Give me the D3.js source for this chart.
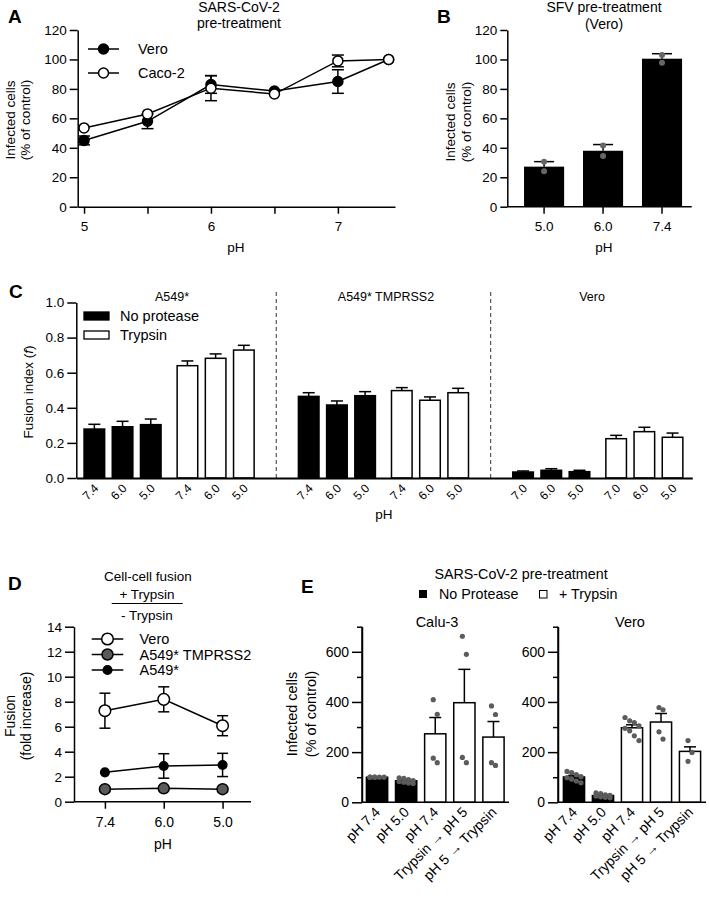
<!DOCTYPE html>
<html><head><meta charset="utf-8">
<script src="https://cdn.jsdelivr.net/npm/d3@7"></script>
<style>
body{margin:0;background:#fff}
svg{display:block;font-family:"Liberation Sans",Arial,Helvetica,sans-serif}
</style></head><body>
<svg id="chart" width="709" height="898"></svg>
<script>
// ---------- DATA ----------
// Panel A
const phA = [5, 5.5, 6, 6.5, 7, 7.4];
const veroA = [45, 58, 83, 78.5, 85, 100];
const veroAErr = [3, 5, 6, 1, 8, 0];
const cacoA = [53.5, 63, 80.5, 76.5, 99, 100];
const cacoAErr = [1, 1, 8.5, 1, 4, 0];
const xTicksA = [5, 5.5, 6, 6.5, 7];
const yTicksAB = [0, 20, 40, 60, 80, 100, 120];
// Panel B
const phB = ["5.0", "6.0", "7.4"];
const sfvB = [27.2, 38, 100.5];
const sfvBErr = [3.4, 4.2, 3.4];
const sfvBDots = [[24, 30.5], [34.4, 41.5], [97.8, 103]];
// Panel C
const groupsC = ["A549*", "A549* TMPRSS2", "Vero"];
const phC = [["7.4", "6.0", "5.0"], ["7.4", "6.0", "5.0"], ["7.0", "6.0", "5.0"]];
const noProtC = [[0.279, 0.292, 0.304], [0.465, 0.416, 0.469], [0.034, 0.044, 0.036]];
const noProtCErr = [[0.027, 0.031, 0.032], [0.021, 0.023, 0.023], [0.006, 0.009, 0.008]];
const trypC = [[0.640, 0.682, 0.729], [0.498, 0.443, 0.486], [0.224, 0.264, 0.232]];
const trypCErr = [[0.027, 0.025, 0.027], [0.017, 0.019, 0.025], [0.019, 0.025, 0.024]];
const yTicksC = [0, 0.2, 0.4, 0.6, 0.8, 1.0];
// Panel D
const phD = ["7.4", "6.0", "5.0"];
const veroD = [7.28, 8.19, 6.08];
const veroDErr = [1.4, 1.0, 0.8];
const tmprssD = [1.0, 1.07, 1.0];
const tmprssDErr = [0.05, 0.05, 0.05];
const a549D = [2.35, 2.86, 2.94];
const a549DErr = [0.12, 0.98, 0.93];
const yTicksD = [0, 2, 4, 6, 8, 10, 12, 14];
// Panel E
const labelsE = ["pH 7.4", "pH 5.0", "pH 7.4", "Trypsin \u2192 pH 5", "pH 5 \u2192 Trypsin"];
const trypsinE = [false, false, true, true, true];
const calu3Mean = [100, 86, 273, 397, 260];
const calu3Err = [1, 3, 65, 133, 62];
const calu3Dots = [[100, 100, 100, 100, 100, 100], [97, 95, 90, 87, 83, 80, 77, 75], [409, 351, 176, 158], [662, 590, 179, 158], [384, 350, 158, 147]];
const veroEMean = [101, 27, 297, 320, 203];
const veroEErr = [6, 3, 12, 34, 18];
const veroEDots = [[123, 118, 110, 102, 98, 92, 85, 78], [38, 35, 30, 28, 25, 22, 20, 18], [338, 325, 318, 305, 295, 285, 265, 246], [378, 369, 281, 252], [246, 199, 163]];
const yTicksE = [0, 200, 400, 600];
const yMinorE = [100, 300, 500, 700];

// ---------- HELPERS ----------
const svg = d3.select("#chart");
svg.append("rect").attr("width", 709).attr("height", 898).attr("fill", "#fff");

function styleAxis(g, fs) {
  g.attr("font-size", fs).attr("font-family", null);
  g.selectAll("line").attr("stroke", "#000").attr("stroke-width", 1.5);
  g.selectAll("path.domain").attr("stroke", "#000").attr("stroke-width", 1.5);
  g.selectAll("text").attr("fill", "#000");
}
function text(g, x, y, s, opts = {}) {
  const t = g.append("text").attr("x", x).attr("y", y).text(s)
    .attr("font-size", opts.fs || 14).attr("text-anchor", opts.anchor || "middle").attr("fill", "#000");
  if (opts.bold) t.attr("font-weight", "bold");
  if (opts.baseline) t.attr("dominant-baseline", opts.baseline);
  if (opts.rotate !== undefined) t.attr("transform", `rotate(${opts.rotate},${x},${y})`);
  return t;
}
function panelLetter(x, y, s) { text(svg, x, y, s, {fs: 19, bold: true, anchor: "start"}); }
function errBar(g, x, y1, y2, cap) {
  g.append("line").attr("x1", x).attr("x2", x).attr("y1", y1).attr("y2", y2).attr("stroke", "#000").attr("stroke-width", 1.5);
  g.append("line").attr("x1", x - cap / 2).attr("x2", x + cap / 2).attr("y1", y2).attr("y2", y2).attr("stroke", "#000").attr("stroke-width", 1.5);
}
function errBoth(g, x, yLo, yHi, cap) {
  g.append("line").attr("x1", x).attr("x2", x).attr("y1", yLo).attr("y2", yHi).attr("stroke", "#000").attr("stroke-width", 1.5);
  [yLo, yHi].forEach(yy => g.append("line").attr("x1", x - cap / 2).attr("x2", x + cap / 2).attr("y1", yy).attr("y2", yy).attr("stroke", "#000").attr("stroke-width", 1.5));
}

// ---------- PANEL A ----------
{
  const g = svg.append("g");
  const x = d3.scaleLinear().domain([4.95, 7.45]).range([77.7, 395]);
  const y = d3.scaleLinear().domain([0, 120]).range([206.7, 30]);
  g.append("g").attr("transform", "translate(77.7,0)")
    .call(d3.axisLeft(y).tickValues(yTicksAB).tickSize(8).tickSizeOuter(0).tickPadding(3))
    .call(styleAxis, 13.5);
  g.append("g").attr("transform", "translate(0,206.7)")
    .call(d3.axisBottom(x).tickValues(xTicksA).tickFormat(d => Number.isInteger(d) ? d : "").tickSize(7).tickSizeOuter(0).tickPadding(8))
    .call(styleAxis, 13.5);
  text(g, 236, 252, "pH", {fs: 13.5});
  text(g, 10, 120, "Infected cells", {fs: 13.5, rotate: -90, baseline: "central"});
  text(g, 25, 120, "(% of control)", {fs: 13.5, rotate: -90, baseline: "central"});
  text(g, 239, 12, "SARS-CoV-2", {fs: 14});
  text(g, 239, 28, "pre-treatment", {fs: 14});
  const series = [
    {vals: veroA, err: veroAErr, fill: "#000"},
    {vals: cacoA, err: cacoAErr, fill: "#fff"}
  ];
  const line = d3.line().x(d => x(d[0])).y(d => y(d[1]));
  series.forEach(s => {
    const pts = phA.map((p, i) => [p, s.vals[i]]);
    g.append("path").attr("d", line(pts)).attr("fill", "none").attr("stroke", "#000").attr("stroke-width", 1.5);
    phA.forEach((p, i) => { if (s.err[i] > 1.5) errBoth(g, x(p), y(s.vals[i] - s.err[i]), y(s.vals[i] + s.err[i]), 12); });
  });
  series.forEach(s => {
    g.selectAll(null).data(phA).enter().append("circle")
      .attr("cx", d => x(d)).attr("cy", (d, i) => y(s.vals[i])).attr("r", 5)
      .attr("fill", s.fill).attr("stroke", "#000").attr("stroke-width", 1.5);
  });
  // legend
  const leg = [["Vero", "#000"], ["Caco-2", "#fff"]];
  leg.forEach((l, i) => {
    const yy = 49 + i * 24;
    g.append("line").attr("x1", 88).attr("x2", 119).attr("y1", yy).attr("y2", yy).attr("stroke", "#000").attr("stroke-width", 1.5);
    g.append("circle").attr("cx", 103.5).attr("cy", yy).attr("r", 5).attr("fill", l[1]).attr("stroke", "#000").attr("stroke-width", 1.5);
    text(g, 138, yy, l[0], {fs: 14.5, anchor: "start", baseline: "central"});
  });
  panelLetter(8, 23, "A");
}

// ---------- PANEL B ----------
{
  const g = svg.append("g");
  const x = d3.scaleBand().domain(phB).range([514.6, 691.5]).paddingInner(0.32).paddingOuter(0.16);
  const y = d3.scaleLinear().domain([0, 120]).range([206.7, 30]);
  phB.forEach((p, i) => {
    g.append("rect").attr("x", x(p)).attr("y", y(sfvB[i])).attr("width", x.bandwidth()).attr("height", y(0) - y(sfvB[i])).attr("fill", "#000");
    errBar(g, x(p) + x.bandwidth() / 2, y(sfvB[i]), y(sfvB[i] + sfvBErr[i]), 20);
    sfvBDots[i].forEach(v => g.append("circle").attr("cx", x(p) + x.bandwidth() / 2).attr("cy", y(v)).attr("r", 3).attr("fill", "#666"));
  });
  g.append("g").attr("transform", "translate(507.3,0)")
    .call(d3.axisLeft(y).tickValues(yTicksAB).tickSize(7).tickSizeOuter(0).tickPadding(3))
    .call(styleAxis, 13.5);
  const xa = g.append("g").attr("transform", "translate(0,206.7)")
    .call(d3.axisBottom(x).tickSize(7).tickSizeOuter(0).tickPadding(8))
    .call(styleAxis, 13.5);
  xa.select("path.domain").attr("d", "M507.3,0H691.7");
  text(g, 604, 252, "pH", {fs: 13.5});
  text(g, 450, 122, "Infected cells", {fs: 13.5, rotate: -90, baseline: "central"});
  text(g, 466, 122, "(% of control)", {fs: 13.5, rotate: -90, baseline: "central"});
  text(g, 604, 12, "SFV pre-treatment", {fs: 14});
  text(g, 604, 29, "(Vero)", {fs: 14});
  panelLetter(437, 23, "B");
}

// ---------- PANEL C ----------
{
  const g = svg.append("g");
  const x = d3.scaleLinear().domain([-0.64, 21.2]).range([76.3, 692.3]);
  const y = d3.scaleLinear().domain([0, 1]).range([478, 302.5]);
  const bw = x(0.73) - x(0);
  const slot = (gi, t, i) => gi * 7.6 + t * 3.3 + i;
  // separators
  [6.45, 14.05].forEach(s => g.append("line").attr("x1", x(s)).attr("x2", x(s)).attr("y1", 292).attr("y2", 478)
    .attr("stroke", "#555").attr("stroke-width", 1.2).attr("stroke-dasharray", "4,3"));
  groupsC.forEach((grp, gi) => {
    [[noProtC, noProtCErr, "#000"], [trypC, trypCErr, "#fff"]].forEach((s, t) => {
      phC[gi].forEach((p, i) => {
        const cx = x(slot(gi, t, i));
        const v = s[0][gi][i], e = s[1][gi][i];
        errBar(g, cx, y(v), y(v + e), 12);
        g.append("rect").attr("x", cx - bw / 2).attr("y", y(v)).attr("width", bw).attr("height", y(0) - y(v))
          .attr("fill", s[2]).attr("stroke", "#000").attr("stroke-width", 1.5);
        text(g, cx + 5, 489, p, {fs: 12, anchor: "end", rotate: -45});
      });
    });
  });
  text(g, 172, 301, groupsC[0], {fs: 12.5});
  text(g, 386, 301, groupsC[1], {fs: 12.5});
  text(g, 592, 301, groupsC[2], {fs: 12.5});
  g.append("g").attr("transform", "translate(76.3,0)")
    .call(d3.axisLeft(y).tickValues(yTicksC).tickFormat(d3.format(".1f")).tickSize(9).tickSizeOuter(0).tickPadding(3))
    .call(styleAxis, 13.5);
  g.append("g").attr("transform", "translate(0,478)")
    .call(d3.axisBottom(x).tickValues([]).tickSizeOuter(0))
    .call(styleAxis, 13).selectAll("path.domain").attr("stroke-width", 2);
  text(g, 384, 519, "pH", {fs: 13.5});
  const yt = text(g, 28, 392, "", {fs: 13.5, rotate: -90, baseline: "central"});
  yt.append("tspan").text("Fusion index (");
  yt.append("tspan").attr("font-style", "italic").text("f");
  yt.append("tspan").text(")");
  // legend
  [["No protease", "#000"], ["Trypsin", "#fff"]].forEach((l, i) => {
    const yy = 316 + i * 19;
    g.append("rect").attr("x", 84).attr("y", yy - 4).attr("width", 25).attr("height", 8).attr("fill", l[1]).attr("stroke", "#000").attr("stroke-width", 1.3);
    text(g, 120, yy, l[0], {fs: 14.5, anchor: "start", baseline: "central"});
  });
  panelLetter(9, 298, "C");
}

// ---------- PANEL D ----------
{
  const g = svg.append("g");
  const x = d3.scalePoint().domain(phD).range([75.5, 252]).padding(0.5);
  const y = d3.scaleLinear().domain([0, 14]).range([801.7, 626.7]);
  g.append("g").attr("transform", "translate(74,0)")
    .call(d3.axisLeft(y).tickValues(yTicksD).tickSize(9).tickSizeOuter(0).tickPadding(3))
    .call(styleAxis, 13.5);
  const xa = g.append("g").attr("transform", "translate(0,801.7)")
    .call(d3.axisBottom(x).tickSize(7).tickSizeOuter(0).tickPadding(8))
    .call(styleAxis, 14);
  xa.select("path.domain").attr("d", "M74,0H251");
  text(g, 163, 849, "pH", {fs: 14});
  text(g, 10, 716, "Fusion", {fs: 14, rotate: -90, baseline: "central"});
  text(g, 26, 716, "(fold increase)", {fs: 14, rotate: -90, baseline: "central"});
  text(g, 148, 581, "Cell-cell fusion", {fs: 13.5});
  text(g, 147, 599, "+ Trypsin", {fs: 13.5});
  g.append("line").attr("x1", 111.7).attr("x2", 182.7).attr("y1", 603.5).attr("y2", 603.5).attr("stroke", "#000").attr("stroke-width", 1.2);
  text(g, 147, 620, "- Trypsin", {fs: 13.5});
  const series = [
    {name: "A549*", vals: a549D, err: a549DErr, fill: "#000", r: 4.3},
    {name: "A549* TMPRSS2", vals: tmprssD, err: tmprssDErr, fill: "#5a5a5a", r: 5.5},
    {name: "Vero", vals: veroD, err: veroDErr, fill: "#fff", r: 5.8}
  ];
  const line = d3.line().x(d => x(d[0])).y(d => y(d[1]));
  series.forEach(s => {
    g.append("path").attr("d", line(phD.map((p, i) => [p, s.vals[i]]))).attr("fill", "none").attr("stroke", "#000").attr("stroke-width", 1.5);
    phD.forEach((p, i) => { if (s.err[i] > 0.3) errBoth(g, x(p), y(s.vals[i] - s.err[i]), y(s.vals[i] + s.err[i]), 11); });
    g.selectAll(null).data(phD).enter().append("circle")
      .attr("cx", d => x(d)).attr("cy", (d, i) => y(s.vals[i])).attr("r", s.r)
      .attr("fill", s.fill).attr("stroke", "#000").attr("stroke-width", 1.5);
  });
  const legOrder = [series[2], series[1], series[0]];
  legOrder.forEach((s, i) => {
    const yy = 639 + i * 15.5;
    g.append("line").attr("x1", 91.7).attr("x2", 123.3).attr("y1", yy).attr("y2", yy).attr("stroke", "#000").attr("stroke-width", 1.5);
    g.append("circle").attr("cx", 107.5).attr("cy", yy).attr("r", s.r).attr("fill", s.fill).attr("stroke", "#000").attr("stroke-width", 1.5);
    text(g, 139.5, yy, s.name, {fs: 14.5, anchor: "start", baseline: "central"});
  });
  panelLetter(8, 590, "D");
}

// ---------- PANEL E ----------
{
  const g = svg.append("g");
  const y = d3.scaleLinear().domain([0, 700]).range([802.3, 626.7]);
  const subs = [
    {title: "Calu-3", ax: 362, end: 509, range: [366.4, 504.1], mean: calu3Mean, err: calu3Err, dots: calu3Dots, tx: 437},
    {title: "Vero", ax: 558, end: 706, range: [563.4, 700.6], mean: veroEMean, err: veroEErr, dots: veroEDots, tx: 630}
  ];
  const idx = labelsE.map((d, i) => i);
  subs.forEach(sb => {
    const x = d3.scaleBand().domain(idx).range(sb.range).paddingInner(0.27).paddingOuter(0);
    const bw = x.bandwidth();
    idx.forEach(i => {
      const cx = x(i) + bw / 2;
      errBar(g, cx, y(sb.mean[i]), y(sb.mean[i] + sb.err[i]), 12);
      g.append("rect").attr("x", x(i)).attr("y", y(sb.mean[i])).attr("width", bw).attr("height", y(0) - y(sb.mean[i]))
        .attr("fill", trypsinE[i] ? "#fff" : "#000").attr("stroke", "#000").attr("stroke-width", 1.5);
      const n = sb.dots[i].length;
      sb.dots[i].forEach((v, k) => {
        const off = n <= 4 ? (k % 2 ? 2 : -2) : ((k % 4) - 1.5) * bw * 0.22;
        g.append("circle").attr("cx", cx + off).attr("cy", y(v)).attr("r", 2.6).attr("fill", "#5c5c5c");
      });
      text(g, cx + 4, 813, labelsE[i], {fs: 14, anchor: "end", rotate: -45});
    });
    g.append("g").attr("transform", `translate(${sb.ax},0)`)
      .call(d3.axisLeft(y).tickValues(yTicksE).tickSize(10).tickSizeOuter(0).tickPadding(3))
      .call(styleAxis, 14);
    g.append("g").attr("transform", `translate(${sb.ax},0)`)
      .call(d3.axisLeft(y).tickValues(yMinorE).tickFormat("").tickSize(5).tickSizeOuter(0))
      .call(styleAxis, 14).select("path.domain").remove();
    g.append("line").attr("x1", sb.ax).attr("x2", sb.end).attr("y1", y(0)).attr("y2", y(0)).attr("stroke", "#000").attr("stroke-width", 1.5);
    g.append("line").attr("x1", sb.ax).attr("x2", sb.ax).attr("y1", y(700)).attr("y2", y(0)).attr("stroke", "#000").attr("stroke-width", 1.5);
    text(g, sb.tx, 627, sb.title, {fs: 14.5});
  });
  text(g, 292, 714, "Infected cells", {fs: 14.5, rotate: -90, baseline: "central"});
  text(g, 311, 714, "(% of control)", {fs: 14.5, rotate: -90, baseline: "central"});
  text(g, 521, 579, "SARS-CoV-2 pre-treatment", {fs: 14.3});
  g.append("rect").attr("x", 419).attr("y", 590).attr("width", 8).attr("height", 8).attr("fill", "#000");
  text(g, 439, 594, "No Protease", {fs: 14.3, anchor: "start", baseline: "central"});
  g.append("rect").attr("x", 539.5).attr("y", 590.5).attr("width", 7.5).attr("height", 7.5).attr("fill", "#fff").attr("stroke", "#000").attr("stroke-width", 1);
  text(g, 559, 594, "+ Trypsin", {fs: 14.3, anchor: "start", baseline: "central"});
  panelLetter(301, 593, "E");
}
</script>
</body></html>
